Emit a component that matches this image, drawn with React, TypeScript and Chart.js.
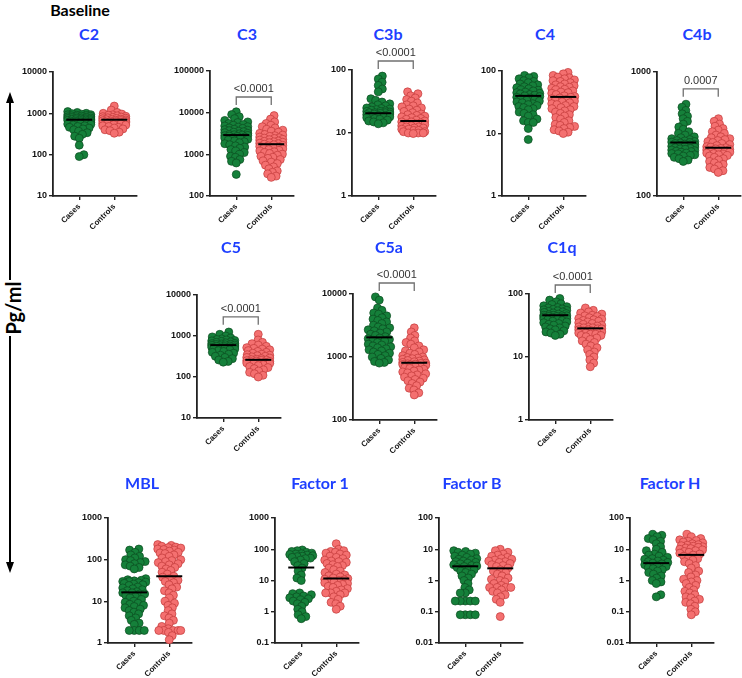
import React, { useEffect, useRef } from 'react';
import { Chart, registerables } from 'chart.js';

Chart.register(...registerables);

const groups = ['Cases', 'Controls'];

// Concentrations (pg/ml) per marker and group
const c2Cases = [1100, 1050, 1000, 980, 950, 930, 920, 900, 880, 870, 860, 850, 830, 820, 800, 790, 780, 770, 760, 750, 740, 730, 720, 710, 700, 690, 680, 670, 660, 650, 640, 630, 620, 610, 600, 590, 580, 560, 550, 540, 520, 500, 480, 460, 440, 420, 400, 370, 340, 310, 280, 250, 170, 100, 90];
const c2Controls = [1500, 1200, 1050, 1000, 960, 920, 900, 870, 850, 830, 810, 800, 780, 760, 750, 740, 720, 710, 700, 690, 680, 670, 660, 650, 640, 630, 620, 610, 600, 590, 580, 570, 560, 550, 530, 520, 500, 480, 460, 440, 420, 400, 380, 350, 330];

const c3Cases = [10500, 9000, 8000, 7200, 6500, 6000, 5800, 5500, 5200, 5000, 4800, 4600, 4500, 4300, 4200, 4000, 3900, 3800, 3700, 3600, 3500, 3400, 3300, 3200, 3100, 3000, 2950, 2900, 2850, 2800, 2750, 2700, 2600, 2500, 2450, 2400, 2300, 2200, 2100, 2000, 1900, 1800, 1700, 1600, 1500, 1400, 1300, 1200, 1100, 1000, 900, 850, 750, 680, 620, 330];
const c3Controls = [8500, 7000, 6000, 5500, 5000, 4600, 4300, 4000, 3800, 3600, 3400, 3200, 3000, 2900, 2800, 2700, 2600, 2500, 2450, 2400, 2300, 2250, 2200, 2100, 2050, 2000, 1950, 1900, 1850, 1800, 1750, 1700, 1650, 1600, 1550, 1500, 1450, 1400, 1350, 1300, 1250, 1200, 1150, 1100, 1050, 1000, 950, 900, 850, 800, 750, 700, 650, 600, 550, 500, 450, 400, 370, 340, 300, 280];

const c3bCases = [80, 72, 64, 57, 50, 45, 35, 33, 31, 29, 28, 27, 26, 25, 24.5, 24, 23.5, 23, 22.5, 22, 22, 21.5, 21, 21, 21, 20.5, 20, 20, 19.5, 19, 19, 18.5, 18, 18, 17.5, 17, 16.5, 16, 15.5, 15, 14.5, 14];
const c3bControls = [45, 42, 39, 36, 34, 32, 30, 28, 27, 26, 25, 24, 23, 22, 21, 20, 19.5, 19, 18.5, 18, 17.5, 17, 16.5, 16, 15.5, 15, 15, 14.5, 14, 14, 13.5, 13, 13, 12.5, 12.5, 12, 12, 11.5, 11.5, 11, 11, 10.5, 10.5, 10, 10, 10, 9.8];

const c4Cases = [85, 82, 78, 75, 70, 68, 65, 62, 60, 58, 56, 54, 52, 50, 49, 48, 46, 45, 44, 43, 42, 41, 40, 39, 38, 37, 36, 35, 34, 33, 32, 31, 30, 29, 28, 27, 26, 25, 24, 22, 21, 20, 19, 17, 16, 15, 15, 12, 8];
const c4Controls = [95, 90, 85, 80, 78, 75, 72, 70, 68, 65, 62, 60, 58, 56, 55, 53, 51, 50, 48, 46, 45, 44, 42, 40, 39, 38, 37, 36, 35, 34, 33, 32, 31, 30, 29, 28, 27, 26, 25, 24, 23, 22, 21, 20, 19, 18, 17, 16, 15, 14, 13.5, 13, 12.5, 12, 11.5, 11, 10.5, 10];

const c4bCases = [550, 520, 490, 460, 440, 420, 400, 380, 360, 345, 330, 320, 310, 300, 295, 290, 285, 280, 278, 275, 272, 270, 268, 265, 262, 260, 258, 255, 252, 250, 248, 245, 242, 240, 238, 235, 232, 230, 228, 225, 222, 220, 218, 215, 212, 210, 205, 200, 195, 190];
const c4bControls = [420, 400, 380, 365, 350, 340, 330, 320, 310, 300, 295, 290, 285, 280, 275, 270, 265, 260, 255, 250, 248, 245, 242, 240, 238, 235, 232, 230, 228, 225, 222, 220, 218, 215, 212, 210, 205, 200, 195, 190, 185, 180, 175, 170, 165, 160, 155];

const c5Cases = [1250, 1100, 1000, 950, 900, 850, 820, 800, 780, 760, 740, 720, 700, 680, 660, 650, 640, 630, 620, 610, 600, 590, 580, 570, 560, 550, 540, 530, 520, 510, 500, 490, 480, 460, 440, 420, 400, 380, 360, 340, 320, 300, 280, 260, 240, 230];
const c5Controls = [1100, 800, 700, 650, 600, 560, 520, 500, 480, 460, 440, 420, 400, 380, 360, 350, 340, 330, 320, 310, 300, 290, 280, 270, 265, 260, 255, 250, 245, 240, 235, 230, 225, 220, 215, 210, 200, 190, 180, 170, 160, 150, 140, 130, 120, 110, 100];

const c5aCases = [9000, 8000, 6000, 5500, 5000, 4800, 4500, 4200, 4000, 3800, 3600, 3400, 3200, 3000, 2900, 2800, 2700, 2600, 2500, 2400, 2300, 2200, 2100, 2000, 1950, 1900, 1850, 1800, 1700, 1600, 1550, 1500, 1450, 1400, 1350, 1300, 1250, 1200, 1150, 1100, 1050, 1000, 950, 900, 850, 820, 800];
const c5aControls = [2900, 2500, 2200, 2000, 1800, 1700, 1600, 1500, 1400, 1300, 1250, 1200, 1150, 1100, 1050, 1000, 980, 960, 940, 920, 900, 880, 860, 840, 820, 800, 790, 780, 770, 760, 750, 740, 720, 700, 680, 660, 640, 620, 600, 580, 560, 540, 520, 500, 480, 460, 440, 420, 400, 380, 350, 320, 300, 270, 250];

const c1qCases = [85, 80, 75, 70, 68, 65, 63, 61, 60, 58, 57, 56, 55, 54, 53, 52, 51, 50, 49, 48, 47, 46, 46, 45, 45, 44, 44, 43, 42, 42, 41, 40, 40, 39, 38, 37, 36, 35, 34, 33, 32, 31, 30, 29, 28, 27, 26, 25, 24, 23, 22];
const c1qControls = [60, 55, 52, 50, 48, 46, 45, 44, 42, 41, 40, 39, 38, 37, 36, 35, 34, 33, 32, 31, 30, 30, 29, 29, 28, 28, 27, 27, 26, 26, 25, 25, 24, 24, 23, 23, 22, 22, 21, 20, 19, 18, 17, 16, 15, 14, 13, 12, 11, 10, 9, 8, 7];

const mblCases = [180, 170, 150, 130, 120, 110, 100, 95, 90, 85, 80, 75, 70, 65, 60, 35, 33, 32, 31, 30, 30, 29, 28, 27, 26, 25, 24, 22, 21, 20, 19, 18, 17, 16, 16, 15, 15, 14, 13, 12, 11, 10, 9.5, 9, 8.5, 8, 7.5, 7, 6.5, 6, 5.5, 5, 4.5, 4, 3.5, 3, 2.8, 2, 2, 2, 2];
const mblControls = [230, 220, 210, 200, 195, 190, 180, 175, 170, 160, 150, 145, 140, 130, 120, 110, 100, 95, 90, 85, 80, 75, 70, 65, 60, 55, 50, 45, 40, 38, 35, 32, 30, 28, 25, 22, 20, 18, 16, 14, 12, 10, 9, 8, 7, 6, 5, 4.5, 4, 3.5, 3, 2.5, 2.2, 2, 2, 2, 2, 2, 1.8, 1.5, 1.2];

const f1Cases = [95, 90, 85, 80, 75, 72, 70, 68, 65, 62, 60, 58, 55, 52, 50, 45, 40, 35, 30, 25, 20, 15, 12, 10, 4, 3.8, 3.5, 3.2, 3.0, 2.8, 2.6, 2.4, 2.2, 2.0, 1.8, 1.5, 1.2, 1.0, 0.8, 0.7, 0.6];
const f1Controls = [150, 100, 90, 85, 80, 75, 70, 65, 60, 55, 50, 45, 42, 40, 38, 35, 32, 30, 28, 25, 22, 20, 18, 16, 15, 14, 13, 12, 11.5, 11, 10.5, 10, 9.5, 9, 8.5, 8, 7.5, 7, 6.5, 6, 5.5, 5, 4.5, 4, 4, 4, 3.5, 3, 2.5, 2, 1.8, 1.5, 1.2];

const fbCases = [9, 8.5, 8, 7.5, 7, 6.5, 6, 5.5, 5, 4.8, 4.5, 4.2, 4, 3.8, 3.6, 3.4, 3.2, 3, 2.9, 2.8, 2.6, 2.4, 2.2, 2, 1.8, 1.6, 1.4, 1.2, 1, 0.8, 0.6, 0.5, 0.4, 0.4, 0.22, 0.22, 0.22, 0.22, 0.22, 0.08, 0.08, 0.08, 0.08];
const fbControls = [10, 9, 8, 7, 6.5, 6, 5.5, 5, 4.8, 4.5, 4.2, 4, 3.8, 3.5, 3.2, 3, 2.8, 2.5, 2.2, 2, 1.8, 1.6, 1.4, 1.2, 1.1, 1, 0.9, 0.8, 0.7, 0.6, 0.6, 0.6, 0.6, 0.5, 0.45, 0.4, 0.35, 0.3, 0.25, 0.2, 0.07];

const fhCases = [30, 28, 25, 22, 20, 18, 15, 12, 10, 9, 8, 7, 6.5, 6, 5.5, 5, 4.8, 4.5, 4.2, 4, 3.8, 3.6, 3.4, 3.2, 3, 2.8, 2.6, 2.4, 2.2, 2, 1.8, 1.6, 1.4, 1.2, 1, 0.9, 0.8, 0.35, 0.3];
const fhControls = [30, 25, 22, 20, 19, 18, 17, 16, 15, 14, 13.5, 13, 12.5, 12, 11.5, 11, 10.5, 10, 9.5, 9, 8.5, 8, 7.5, 7, 6.5, 6, 5.5, 5, 4.5, 4, 3.5, 3, 2.5, 2, 1.8, 1.5, 1.3, 1.1, 1, 0.9, 0.8, 0.7, 0.6, 0.5, 0.45, 0.4, 0.35, 0.3, 0.28, 0.25, 0.22, 0.2, 0.18, 0.15, 0.12, 0.1, 0.08];

// Group medians [Cases, Controls]
const c2Medians = [700, 700];
const c3Medians = [2900, 1750];
const c3bMedians = [20.6, 15.5];
const c4Medians = [40, 38.5];
const c4bMedians = [270, 245];
const c5Medians = [600, 262];
const c5aMedians = [2050, 810];
const c1qMedians = [46, 28.5];
const mblMedians = [16.4, 40];
const f1Medians = [26, 11.6];
const fbMedians = [2.85, 2.45];
const fhMedians = [3.6, 6.6];

const GREEN = '#15803a';
const GREEN_EDGE = '#0b4a20';
const RED = '#f47070';
const RED_EDGE = '#c23a3a';
const TITLE_BLUE = '#1e3fff';
const TICK_FONT = '"Liberation Sans", Arial, sans-serif';

const Y_W = 52;
const PAD_T = 44;
const X_H = 48;
const PLOT_W = 84;
const PAD_R = 6;

type PanelSpec = {
  title: string;
  cases: number[];
  controls: number[];
  medians: number[];
  yMin: number;
  yMax: number;
  pValue?: string;
  bracketAt?: number;
  axisX: number;
  topY: number;
  bottomY: number;
  titleX: number;
  titleY: number;
};

const panels: PanelSpec[] = [
  { title: 'C2', cases: c2Cases, controls: c2Controls, medians: c2Medians, yMin: 10, yMax: 10000, axisX: 53, topY: 72, bottomY: 196, titleX: 89, titleY: 33 },
  { title: 'C3', cases: c3Cases, controls: c3Controls, medians: c3Medians, yMin: 100, yMax: 100000, pValue: '<0.0001', bracketAt: 23800, axisX: 210, topY: 71, bottomY: 196, titleX: 247, titleY: 33 },
  { title: 'C3b', cases: c3bCases, controls: c3bControls, medians: c3bMedians, yMin: 1, yMax: 100, pValue: '<0.0001', bracketAt: 139, axisX: 352, topY: 70, bottomY: 196, titleX: 388, titleY: 33 },
  { title: 'C4', cases: c4Cases, controls: c4Controls, medians: c4Medians, yMin: 1, yMax: 100, axisX: 502, topY: 71, bottomY: 196, titleX: 545, titleY: 33 },
  { title: 'C4b', cases: c4bCases, controls: c4bControls, medians: c4bMedians, yMin: 100, yMax: 1000, pValue: '0.0007', bracketAt: 731, axisX: 657, topY: 72, bottomY: 196, titleX: 697, titleY: 33 },
  { title: 'C5', cases: c5Cases, controls: c5Controls, medians: c5Medians, yMin: 10, yMax: 10000, pValue: '<0.0001', bracketAt: 2930, axisX: 197, topY: 295, bottomY: 418, titleX: 231, titleY: 246 },
  { title: 'C5a', cases: c5aCases, controls: c5aControls, medians: c5aMedians, yMin: 100, yMax: 10000, pValue: '<0.0001', bracketAt: 14960, axisX: 353, topY: 294, bottomY: 420, titleX: 389, titleY: 246 },
  { title: 'C1q', cases: c1qCases, controls: c1qControls, medians: c1qMedians, yMin: 1, yMax: 100, pValue: '<0.0001', bracketAt: 139, axisX: 529, topY: 294, bottomY: 420, titleX: 562, titleY: 246 },
  { title: 'MBL', cases: mblCases, controls: mblControls, medians: mblMedians, yMin: 1, yMax: 1000, axisX: 108, topY: 518, bottomY: 643, titleX: 142, titleY: 482 },
  { title: 'Factor 1', cases: f1Cases, controls: f1Controls, medians: f1Medians, yMin: 0.1, yMax: 1000, axisX: 275, topY: 518, bottomY: 643, titleX: 320, titleY: 482 },
  { title: 'Factor B', cases: fbCases, controls: fbControls, medians: fbMedians, yMin: 0.01, yMax: 100, axisX: 439, topY: 518, bottomY: 643, titleX: 472, titleY: 482 },
  { title: 'Factor H', cases: fhCases, controls: fhControls, medians: fhMedians, yMin: 0.01, yMax: 100, axisX: 630, topY: 518, bottomY: 643, titleX: 670, titleY: 482 },
];

// Beeswarm: horizontal pixel offsets within ±cap; dots closer than `gap` are pushed aside,
// and when the band is full the least-overlapping slot is used.
function swarmOffsets(ys: number[], gap: number, cap: number): number[] {
  const order = ys.map((_, i) => i).sort((a, b) => ys[b] - ys[a]);
  const placed: { x: number; y: number }[] = [];
  const out = new Array(ys.length).fill(0);
  let flip = 1;
  for (const i of order) {
    const y = ys[i];
    const cands = [0];
    for (const p of placed) {
      const dy = y - p.y;
      if (Math.abs(dy) < gap) {
        const dx = Math.sqrt(gap * gap - dy * dy);
        cands.push(p.x + dx + 0.01, p.x - dx - 0.01);
      }
    }
    const ok = cands
      .filter((c) => Math.abs(c) <= cap)
      .sort((a, b) => Math.abs(a) - Math.abs(b) || (a - b) * flip);
    flip = -flip;
    let best: number | null = null;
    for (const c of ok) {
      if (placed.every((p) => (p.x - c) ** 2 + (p.y - y) ** 2 >= gap * gap - 0.05)) {
        best = c;
        break;
      }
    }
    if (best === null) {
      let bestCost = Infinity;
      best = 0;
      for (let k = 0; k <= cap * 4; k++) {
        const mag = Math.ceil(k / 2) * 0.5;
        const c = (k % 2 === 0 ? 1 : -1) * flip * mag;
        let cost = 0;
        for (const p of placed) {
          const d = Math.hypot(p.x - c, p.y - y);
          if (d < gap) cost += gap - d;
        }
        if (cost < bestCost - 1e-6) {
          bestCost = cost;
          best = c;
        }
      }
    }
    placed.push({ x: best, y });
    out[i] = best;
  }
  return out;
}

function formatTick(v: number): string {
  return String(v);
}

function Panel({ spec }: { spec: PanelSpec }) {
  const ref = useRef<HTMLCanvasElement>(null);
  const plotH = spec.bottomY - spec.topY;
  const w = Y_W + PLOT_W + PAD_R;
  const h = PAD_T + plotH + X_H;

  useEffect(() => {
    const canvas = ref.current;
    if (!canvas) return;

    const overlay = {
      id: 'medianAndBracket',
      afterDatasetsDraw(chart: Chart) {
        const { ctx } = chart;
        const xs = chart.scales.x;
        const ys = chart.scales.y;
        ctx.save();
        ctx.strokeStyle = '#000';
        ctx.lineWidth = 2;
        spec.medians.forEach((m, i) => {
          const cx = xs.getPixelForValue(i);
          const py = ys.getPixelForValue(m);
          ctx.beginPath();
          ctx.moveTo(cx - 13, py);
          ctx.lineTo(cx + 13, py);
          ctx.stroke();
        });
        if (spec.pValue && spec.bracketAt) {
          const by = ys.getPixelForValue(spec.bracketAt);
          const x0 = xs.getPixelForValue(0);
          const x1 = xs.getPixelForValue(1);
          ctx.strokeStyle = '#707070';
          ctx.lineWidth = 1.3;
          ctx.beginPath();
          ctx.moveTo(x0, by + 8);
          ctx.lineTo(x0, by);
          ctx.lineTo(x1, by);
          ctx.lineTo(x1, by + 8);
          ctx.stroke();
          ctx.fillStyle = '#333';
          ctx.font = `11px ${TICK_FONT}`;
          ctx.textAlign = 'center';
          ctx.textBaseline = 'alphabetic';
          ctx.fillText(spec.pValue, (x0 + x1) / 2, by - 5);
        }
        ctx.restore();
      },
    };

    const decades: number[] = [];
    for (let e = Math.round(Math.log10(spec.yMin)); e <= Math.round(Math.log10(spec.yMax)); e++) {
      decades.push(Number('1e' + e));
    }

    const axisColor = '#222';
    const chart = new Chart(canvas, {
      type: 'scatter',
      data: {
        datasets: [
          {
            data: spec.cases.map((v) => ({ x: 0, y: v })),
            backgroundColor: GREEN,
            borderColor: GREEN_EDGE,
            borderWidth: 0.7,
            pointRadius: 4,
            pointHoverRadius: 4,
            clip: false,
          },
          {
            data: spec.controls.map((v) => ({ x: 1, y: v })),
            backgroundColor: RED,
            borderColor: RED_EDGE,
            borderWidth: 0.7,
            pointRadius: 4,
            pointHoverRadius: 4,
            clip: false,
          },
        ],
      },
      options: {
        responsive: false,
        animation: false,
        devicePixelRatio: 1,
        events: [],
        layout: { padding: { top: PAD_T, right: PAD_R, left: 0, bottom: 0 } },
        plugins: { legend: { display: false }, tooltip: { enabled: false } },
        scales: {
          x: {
            type: 'linear',
            min: -0.75,
            max: 1.65,
            afterBuildTicks: (s: any) => {
              s.ticks = [{ value: 0 }, { value: 1 }];
            },
            afterFit: (s: any) => {
              s.height = X_H;
              s.paddingLeft = 0;
              s.paddingRight = 0;
            },
            ticks: {
              callback: (v: any) => groups[Number(v)],
              minRotation: 45,
              maxRotation: 45,
              autoSkip: false,
              padding: 2,
              color: '#111',
              font: { family: TICK_FONT, size: 8, weight: 'bold' },
            },
            grid: { drawOnChartArea: false, drawTicks: true, tickLength: 4, color: axisColor, lineWidth: 1.4 },
            border: { color: axisColor, width: 1.8 },
          },
          y: {
            type: 'logarithmic',
            min: spec.yMin,
            max: spec.yMax,
            afterBuildTicks: (s: any) => {
              s.ticks = decades.map((value) => ({ value }));
            },
            afterFit: (s: any) => {
              s.width = Y_W;
              s.paddingTop = 0;
              s.paddingBottom = 0;
            },
            ticks: {
              callback: (v: any) => formatTick(Number(v)),
              autoSkip: false,
              padding: 2,
              color: '#111',
              font: { family: TICK_FONT, size: 9, weight: 'bold' },
            },
            grid: { drawOnChartArea: false, drawTicks: true, tickLength: 4, color: axisColor, lineWidth: 1.4 },
            border: { color: axisColor, width: 1.8 },
          },
        },
      } as any,
      plugins: [overlay],
    });

    // spread the dots sideways into a swarm around each group position
    const xs = chart.scales.x;
    const ysc = chart.scales.y;
    const pxPerUnit = xs.getPixelForValue(1) - xs.getPixelForValue(0);
    [spec.cases, spec.controls].forEach((vals, g) => {
      const pys = vals.map((v) => ysc.getPixelForValue(v));
      const offs = swarmOffsets(pys, 5, 11.5);
      chart.data.datasets[g].data = vals.map((v, i) => ({ x: g + offs[i] / pxPerUnit, y: v }));
    });
    chart.update();

    return () => chart.destroy();
  }, []);

  return (
    <>
      <div
        style={{
          position: 'absolute',
          left: spec.titleX,
          top: spec.titleY,
          transform: 'translate(-50%, -50%)',
          font: 'bold 16px Lato, "Open Sans", sans-serif',
          color: TITLE_BLUE,
          whiteSpace: 'nowrap',
        }}
      >
        {spec.title}
      </div>
      <canvas
        ref={ref}
        width={w}
        height={h}
        style={{ position: 'absolute', left: spec.axisX - Y_W, top: spec.topY - PAD_T, width: w, height: h }}
      />
    </>
  );
}

export default function App() {
  return (
    <div style={{ position: 'absolute', left: 0, top: 0, width: 742, height: 678, background: '#fff', overflow: 'hidden' }}>
      <div
        style={{
          position: 'absolute',
          left: 80,
          top: 9,
          transform: 'translate(-50%, -50%)',
          font: 'bold 16px Lato, "Open Sans", sans-serif',
          color: '#000',
        }}
      >
        Baseline
      </div>
      <svg width={30} height={678} style={{ position: 'absolute', left: 0, top: 0 }}>
        <line x1={10} y1={280} x2={10} y2={100} stroke="#000" strokeWidth={2} />
        <polygon points="10,92 6,103 14,103" fill="#000" />
        <line x1={10} y1={336} x2={10} y2={565} stroke="#000" strokeWidth={2} />
        <polygon points="10,573 6,562 14,562" fill="#000" />
      </svg>
      <div
        style={{
          position: 'absolute',
          left: 13,
          top: 308,
          transform: 'translate(-50%, -50%) rotate(-90deg)',
          font: 'bold 20px Lato, "Open Sans", sans-serif',
          color: '#000',
          whiteSpace: 'nowrap',
        }}
      >
        Pg/ml
      </div>
      {panels.map((p) => (
        <Panel key={p.title} spec={p} />
      ))}
    </div>
  );
}
